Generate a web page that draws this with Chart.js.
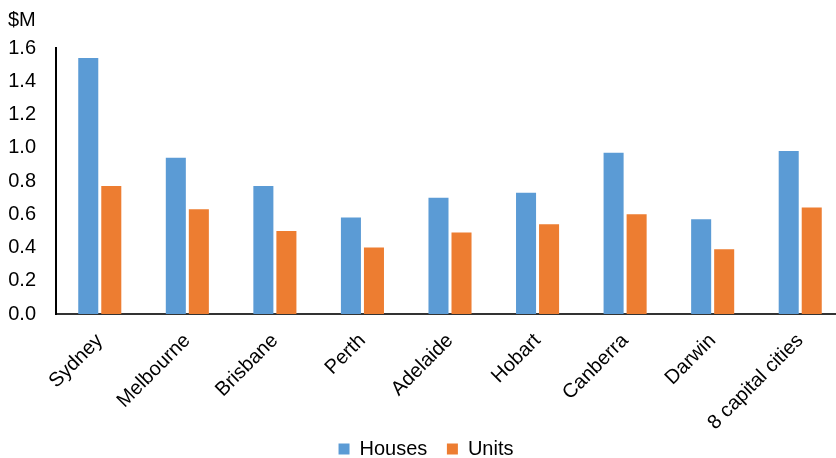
<!DOCTYPE html>
<html>
<head>
<meta charset="utf-8">
<script src="https://cdn.jsdelivr.net/npm/chart.js@4/dist/chart.umd.min.js"></script>
<style>
  html, body { margin: 0; padding: 0; background: #fff; overflow: hidden; }
  #wrap { width: 844px; height: 469px; }
</style>
</head>
<body>
<div id="wrap"><canvas id="c" width="844" height="469"></canvas></div>
<script>
// Median dwelling prices by capital city ($ million)
const cities = ['Sydney', 'Melbourne', 'Brisbane', 'Perth', 'Adelaide', 'Hobart', 'Canberra', 'Darwin', '8 capital cities'];
const houses = [1.54, 0.94, 0.77, 0.58, 0.70, 0.73, 0.97, 0.57, 0.98];
const units  = [0.77, 0.63, 0.50, 0.40, 0.49, 0.54, 0.60, 0.39, 0.64];
const yTicks = [0, 0.2, 0.4, 0.6, 0.8, 1.0, 1.2, 1.4, 1.6];

const FONT = 'Liberation Sans, Arial, sans-serif';

new Chart(document.getElementById('c'), {
  type: 'bar',
  data: {
    labels: cities,
    datasets: [
      { label: 'Houses', data: houses, backgroundColor: '#5B9BD5' },
      { label: 'Units',  data: units,  backgroundColor: '#ED7D31' }
    ]
  },
  options: {
    responsive: false,
    animation: false,
    devicePixelRatio: 1,
    datasets: { bar: { categoryPercentage: 0.526, barPercentage: 0.87 } },
    layout: { padding: { left: 8, right: 0, top: 0, bottom: 0 } },
    plugins: {
      title: {
        display: true,
        text: '$M',
        align: 'start',
        color: '#000',
        font: { family: FONT, size: 20, weight: 'normal' },
        padding: { top: 8, bottom: 16 }
      },
      legend: {
        position: 'bottom',
        labels: {
          color: '#000',
          font: { family: FONT, size: 20 },
          boxWidth: 11,
          boxHeight: 11,
          padding: 4,
          // widen the gap after every entry but the last
          generateLabels: (chart) => {
            const items = Chart.defaults.plugins.legend.labels.generateLabels(chart);
            items.forEach((it, i) => { if (i < items.length - 1) it.text += '\u2002 '; });
            return items;
          }
        }
      },
      tooltip: { enabled: false }
    },
    scales: {
      x: {
        grid: { display: false, drawTicks: false },
        border: { display: true, color: '#333', width: 2 },
        ticks: {
          color: '#000',
          font: { family: FONT, size: 20 },
          maxRotation: 45,
          minRotation: 45,
          padding: 15,
          autoSkip: false
        },
        // rotated labels hang below the axis; keep the band a fixed height
        afterFit: (s) => { s.height = 121; s.paddingLeft = 0; s.paddingRight = 0; }
      },
      y: {
        min: 0,
        max: 1.6,
        afterBuildTicks: (axis) => { axis.ticks = yTicks.map(v => ({ value: v })); },
        grid: { display: false, drawTicks: false },
        border: { display: true, color: '#000', width: 2 },
        ticks: {
          color: '#000',
          font: { family: FONT, size: 20 },
          padding: 20,
          callback: (v) => Number(v).toFixed(1)
        },
        afterFit: (s) => { s.width = 48; }
      }
    }
  }
});
</script>
</body>
</html>
